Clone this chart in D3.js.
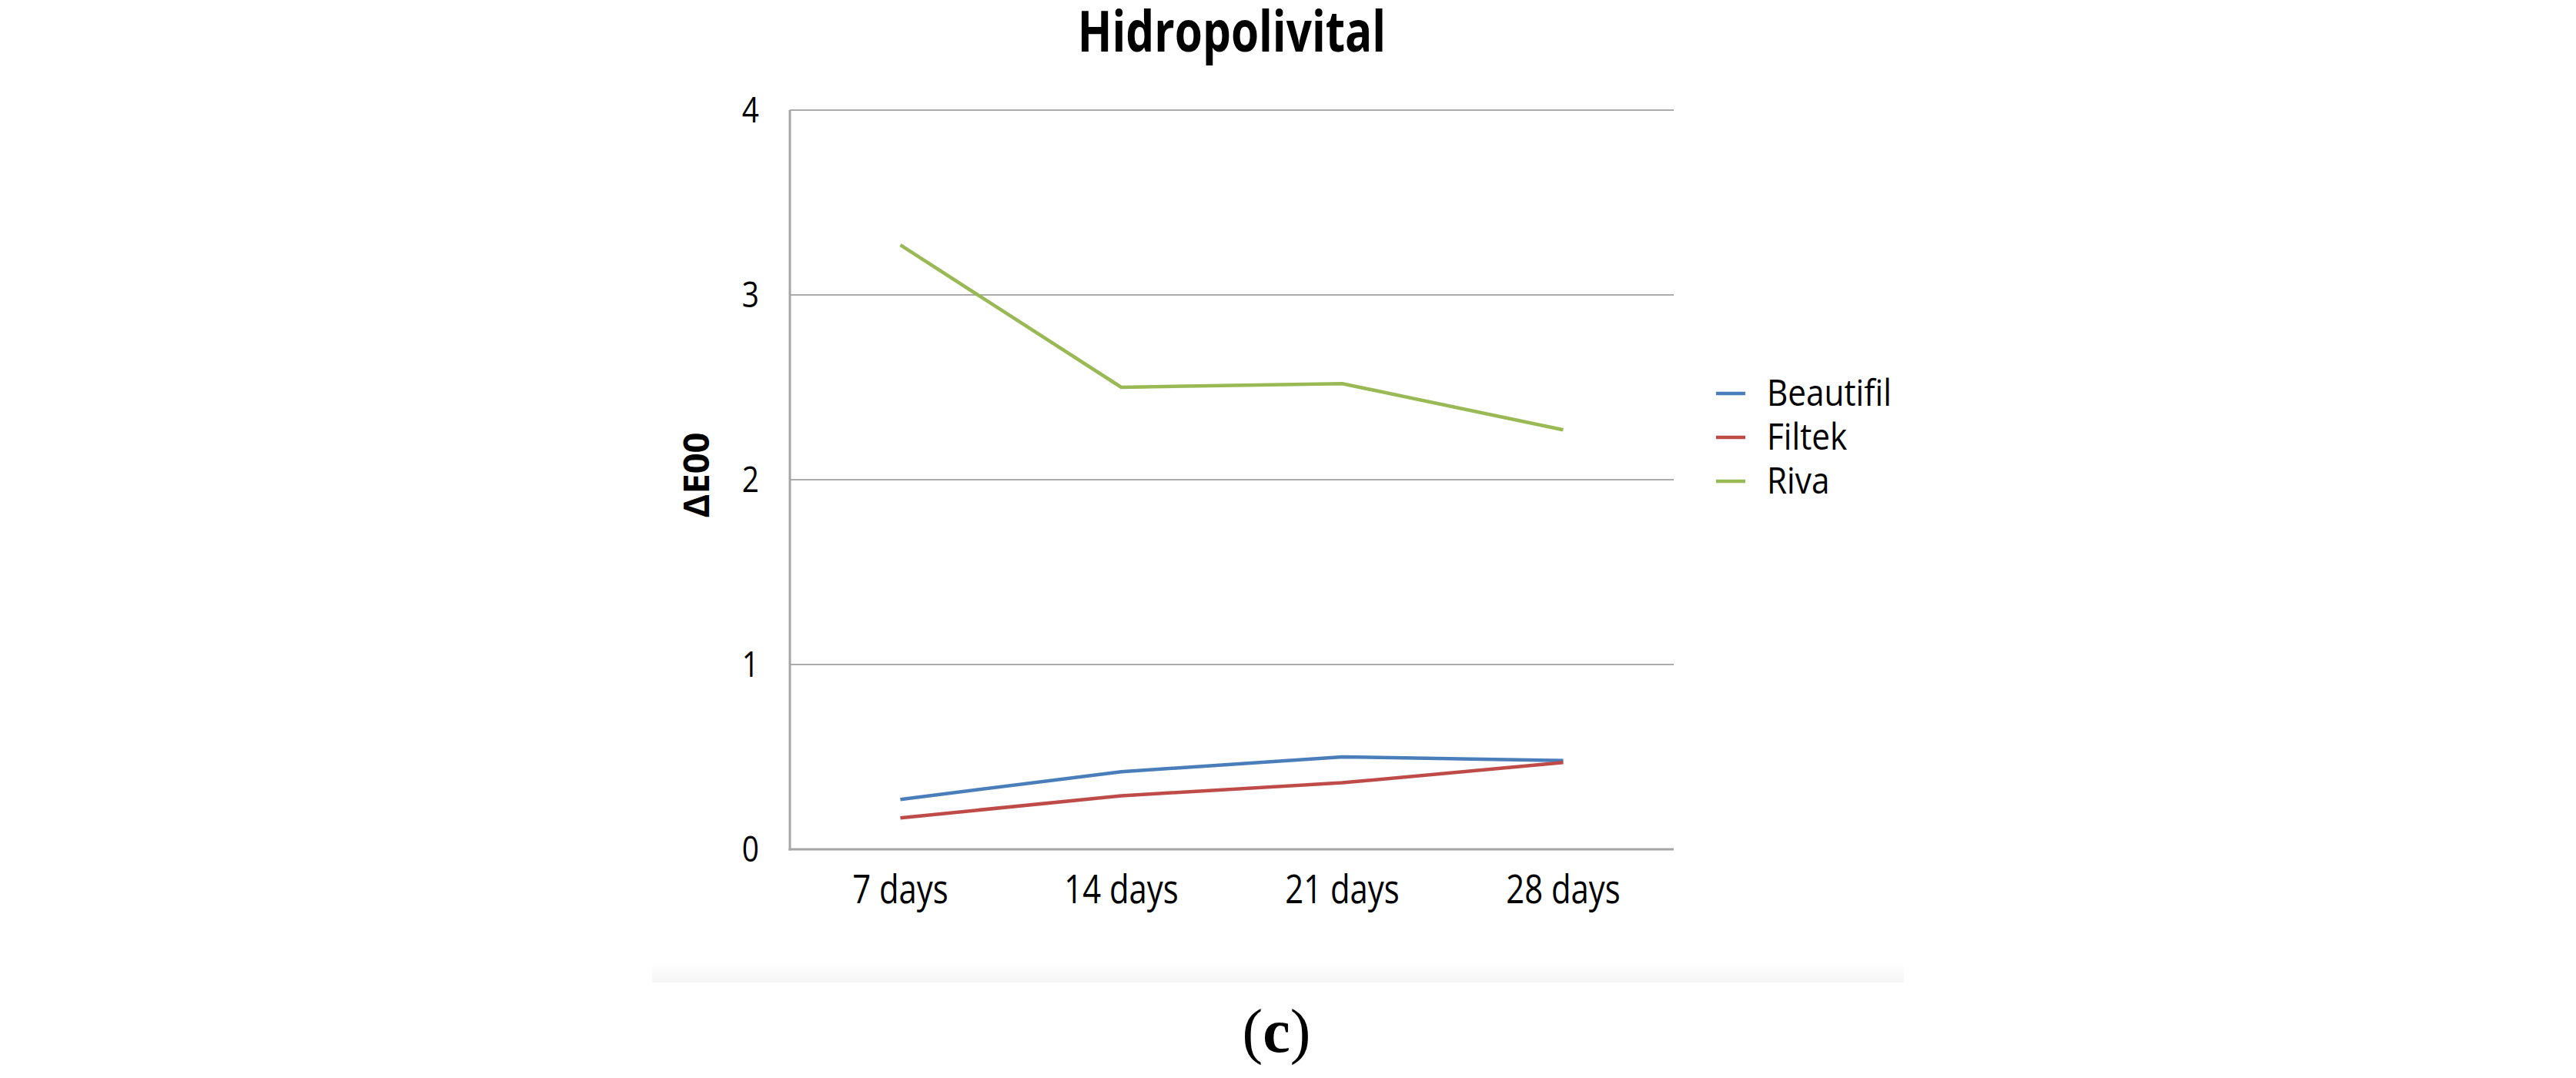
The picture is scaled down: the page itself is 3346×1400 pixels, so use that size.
<!DOCTYPE html>
<html>
<head>
<meta charset="utf-8">
<script src="https://cdn.jsdelivr.net/npm/d3@7"></script>
<style>
  html, body { margin: 0; padding: 0; background: #ffffff; }
  svg { display: block; }
</style>
</head>
<body>
<svg id="chart" width="3346" height="1400"></svg>
<script>
// ---- data ----
const categories = ["7 days", "14 days", "21 days", "28 days"];
const seriesNames = ["Beautifil", "Filtek", "Riva"];
const beautifil = [0.27, 0.42, 0.50, 0.48];
const filtek = [0.17, 0.29, 0.36, 0.47];
const riva = [3.27, 2.50, 2.52, 2.27];
const yTicks = [0, 1, 2, 3, 4];
const titleText = "Hidropolivital";
const yTitle = "ΔE00";
const colors = ["#4a7ebb", "#be4b48", "#98b954"];

const series = [
  { name: seriesNames[0], values: beautifil, color: colors[0] },
  { name: seriesNames[1], values: filtek, color: colors[1] },
  { name: seriesNames[2], values: riva, color: colors[2] }
];

const svg = d3.select("#chart");
const FONT = "'Open Sans', 'Liberation Sans', sans-serif";

function squeeze(sel, f) {
  sel.each(function () {
    const w = this.getComputedTextLength();
    d3.select(this).attr("textLength", w * f).attr("lengthAdjust", "spacingAndGlyphs");
  });
}

// chart box background with faint bottom shadow
const defs = svg.append("defs");
const grad = defs.append("linearGradient").attr("id", "shadow").attr("x1", 0).attr("y1", 0).attr("x2", 0).attr("y2", 1);
grad.append("stop").attr("offset", "0%").attr("stop-color", "#ffffff");
grad.append("stop").attr("offset", "100%").attr("stop-color", "#f5f5f5");
svg.append("rect").attr("x", 847).attr("y", 1250).attr("width", 1626).attr("height", 26).attr("fill", "url(#shadow)");

const plot = { left: 1026, right: 2174, top: 143, bottom: 1103 };

const x = d3.scaleBand().domain(categories).range([plot.left, plot.right]);
const y = d3.scaleLinear().domain([0, 4]).range([plot.bottom, plot.top]);

// gridlines
svg.append("g")
  .selectAll("line")
  .data(yTicks.filter(d => d > 0))
  .join("line")
  .attr("x1", plot.left).attr("x2", plot.right)
  .attr("y1", d => y(d)).attr("y2", d => y(d))
  .attr("stroke", "#ababab").attr("stroke-width", 2.2);

// axes lines
svg.append("line").attr("x1", plot.left).attr("x2", plot.left)
  .attr("y1", plot.top).attr("y2", plot.bottom + 1.5)
  .attr("stroke", "#a6a6a6").attr("stroke-width", 3);
svg.append("line").attr("x1", plot.left - 1.5).attr("x2", plot.right)
  .attr("y1", plot.bottom).attr("y2", plot.bottom)
  .attr("stroke", "#a6a6a6").attr("stroke-width", 3);

// y tick labels
const yl = svg.append("g").selectAll("text")
  .data(yTicks)
  .join("text")
  .attr("x", 986)
  .attr("y", d => y(d))
  .attr("dy", "0.36em")
  .attr("text-anchor", "end")
  .attr("font-family", FONT)
  .attr("font-size", 45)
  .attr("fill", "#000")
  .text(d => d3.format("d")(d));
squeeze(yl, 0.86);

// x tick labels
const xl = svg.append("g").selectAll("text")
  .data(categories)
  .join("text")
  .attr("x", d => x(d) + x.bandwidth() / 2)
  .attr("y", 1173)
  .attr("text-anchor", "middle")
  .attr("font-family", FONT)
  .attr("font-size", 51)
  .attr("fill", "#000")
  .text(d => d);
squeeze(xl, 0.82);

// lines
const line = d3.line()
  .x((d, i) => x(categories[i]) + x.bandwidth() / 2)
  .y(d => y(d));

svg.append("g").selectAll("path")
  .data(series)
  .join("path")
  .attr("d", d => line(d.values))
  .attr("fill", "none")
  .attr("stroke", d => d.color)
  .attr("stroke-width", 4.5)
  .attr("stroke-linejoin", "round");

// title
const t = svg.append("text")
  .attr("x", 1600).attr("y", 67)
  .attr("text-anchor", "middle")
  .attr("font-family", FONT)
  .attr("font-weight", "bold")
  .attr("font-size", 73)
  .attr("fill", "#000")
  .text(titleText);
squeeze(t, 0.8);

// y title
const yt = svg.append("text")
  .attr("transform", "translate(921,617) rotate(-90)")
  .attr("text-anchor", "middle")
  .attr("font-family", FONT)
  .attr("font-weight", "bold")
  .attr("font-size", 46)
  .attr("fill", "#000")
  .text(yTitle);
yt.attr("textLength", 111).attr("lengthAdjust", "spacingAndGlyphs");

// legend
const lg = svg.append("g").selectAll("g")
  .data(series)
  .join("g")
  .attr("transform", (d, i) => `translate(0, ${i * 57})`);
lg.append("line")
  .attr("x1", 2229).attr("x2", 2267)
  .attr("y1", 511).attr("y2", 511)
  .attr("stroke", d => d.color).attr("stroke-width", 4.5);
const lt = lg.append("text")
  .attr("x", 2295).attr("y", 527)
  .attr("font-family", FONT)
  .attr("font-size", 47)
  .attr("fill", "#000")
  .text(d => d.name);
squeeze(lt, 0.9);

// caption (c)
const cap = svg.append("text")
  .attr("x", 1658).attr("y", 1366)
  .attr("text-anchor", "middle")
  .attr("font-family", "'Liberation Serif', 'DejaVu Serif', serif")
  .attr("font-size", 80)
  .attr("fill", "#000");
cap.append("tspan").text("(");
cap.append("tspan").attr("font-weight", "bold").text("c");
cap.append("tspan").text(")");
</script>
</body>
</html>
